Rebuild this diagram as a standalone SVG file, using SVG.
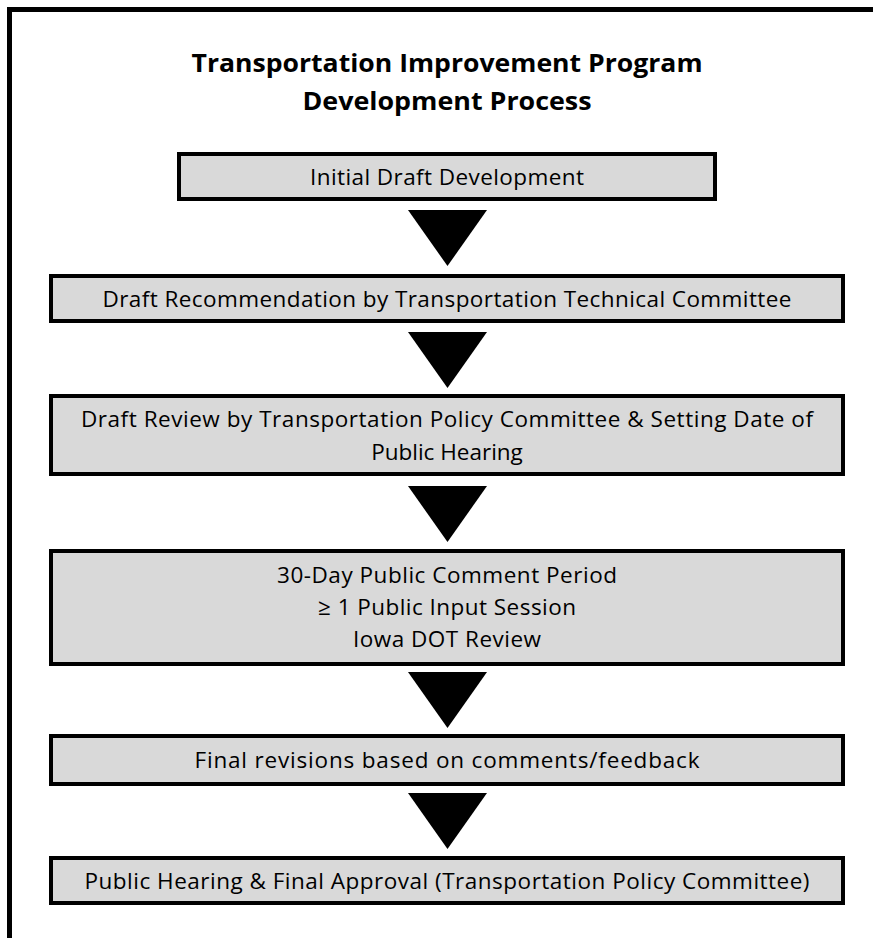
<svg xmlns="http://www.w3.org/2000/svg" width="873" height="938" viewBox="0 0 873 938">
<style>
.box{fill:#d9d9d9;stroke:#000;stroke-width:4}
.t{font-family:"Open Sans","Liberation Sans",sans-serif;font-size:22.5px;fill:#000;text-anchor:middle}
.title{font-family:"Open Sans","Liberation Sans",sans-serif;font-size:25px;font-weight:bold;fill:#000;text-anchor:middle}
.arr{fill:#000}
.frame{fill:none;stroke:#000;stroke-width:5}
</style>
<rect width="873" height="938" fill="#fff"/>
<path class="frame" d="M9.5,938 V9.5 H873"/>
<g id="title">
<text class="title" x="447" y="72" textLength="511" lengthAdjust="spacingAndGlyphs">Transportation Improvement Program</text>
<text class="title" x="447" y="110" textLength="289" lengthAdjust="spacingAndGlyphs">Development Process</text>
</g>
<g id="n1">
<rect class="box" x="179" y="154" width="536" height="45"/>
<text class="t" x="447" y="185" textLength="274" lengthAdjust="spacing">Initial Draft Development</text>
</g>
<g id="n2">
<rect class="box" x="51" y="276" width="792" height="45"/>
<text class="t" x="447" y="307" textLength="689" lengthAdjust="spacing">Draft Recommendation by Transportation Technical Committee</text>
</g>
<g id="n3">
<rect class="box" x="51" y="396" width="792" height="78"/>
<text class="t" x="447" y="427" textLength="732" lengthAdjust="spacing">Draft Review by Transportation Policy Committee &amp; Setting Date of</text>
<text class="t" x="447" y="460">Public Hearing</text>
</g>
<g id="n4">
<rect class="box" x="51" y="551" width="792" height="113"/>
<text class="t" x="447" y="583" textLength="340" lengthAdjust="spacing">30-Day Public Comment Period</text>
<text class="t" x="447" y="615" textLength="258" lengthAdjust="spacing">≥ 1 Public Input Session</text>
<text class="t" x="447" y="647" textLength="188" lengthAdjust="spacing">Iowa DOT Review</text>
</g>
<g id="n5">
<rect class="box" x="51" y="736" width="792" height="48"/>
<text class="t" x="447" y="768" textLength="505" lengthAdjust="spacing">Final revisions based on comments/feedback</text>
</g>
<g id="n6">
<rect class="box" x="51" y="858" width="792" height="45"/>
<text class="t" x="447" y="889" textLength="725" lengthAdjust="spacing">Public Hearing &amp; Final Approval (Transportation Policy Committee)</text>
</g>
<g id="connectors">
<polygon class="arr" points="408,210 487,210 447.5,266"/>
<polygon class="arr" points="408,332 487,332 447.5,388"/>
<polygon class="arr" points="408,486 487,486 447.5,542"/>
<polygon class="arr" points="408,672 487,672 447.5,728"/>
<polygon class="arr" points="408,793 487,793 447.5,849"/>
</g>
</svg>
